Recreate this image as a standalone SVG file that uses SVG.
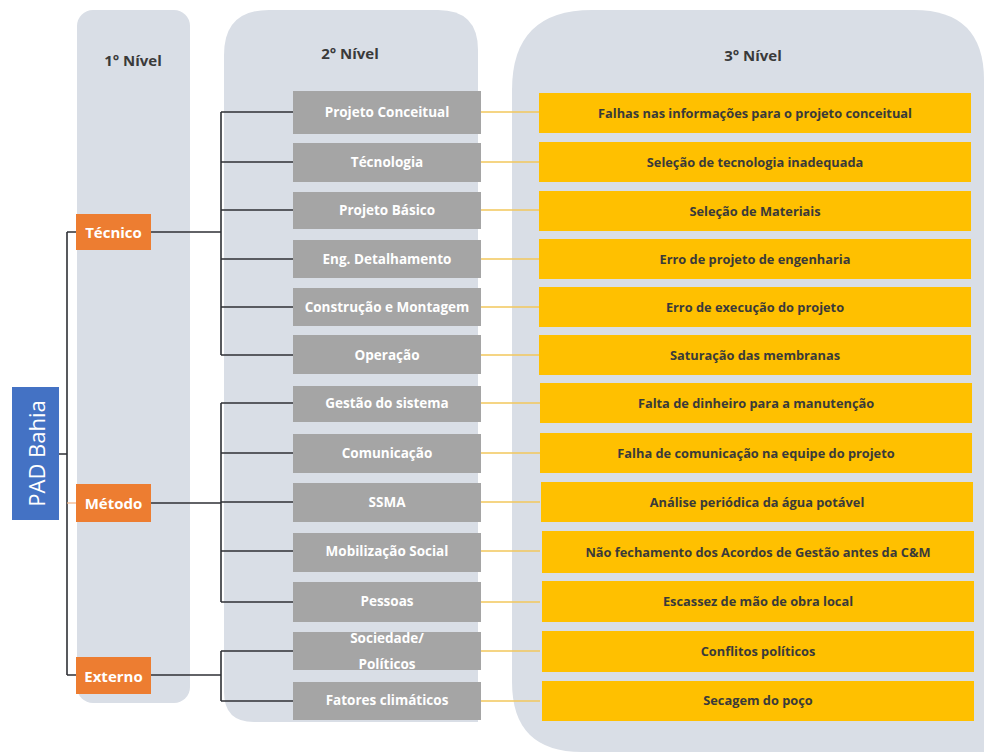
<svg xmlns="http://www.w3.org/2000/svg" width="984" height="754" viewBox="0 0 984 754">
<style>
.panel{fill:#D9DEE6}
.hdr{font-family:"Open Sans","Liberation Sans",sans-serif;font-weight:700;font-size:15px;fill:#3A3A3A;text-anchor:middle}
.g rect{fill:#A5A5A5}
.g text{font-family:"Open Sans","Liberation Sans",sans-serif;font-weight:700;font-size:13.5px;fill:#FFFFFF;text-anchor:middle;dominant-baseline:central}
.y rect{fill:#FFC000}
.y text{font-family:"Open Sans","Liberation Sans",sans-serif;font-weight:700;font-size:12.8px;fill:#3A3A3A;text-anchor:middle;dominant-baseline:central}
.o rect{fill:#ED7D31}
.o text{font-family:"Open Sans","Liberation Sans",sans-serif;font-weight:700;font-size:15px;fill:#FFFFFF;text-anchor:middle;dominant-baseline:central}
.dk{stroke:#2F3136;stroke-width:1.6;fill:none}
.yl{stroke:#F2C75C;stroke-width:1.3;fill:none}
</style>
<rect width="984" height="754" fill="#FFFFFF"/>
<g id="panels">
<rect class="panel" x="77" y="10" width="113" height="693" rx="16"/>
<path class="panel" d="M224 55 Q224 10 269 10 L438 10 Q478 10 478 50 L478 722 L254 722 Q224 722 224 692 Z"/>
<path class="panel" d="M512 90 Q512 10 592 10 L914 10 Q984 10 984 80 L984 752 L582 752 Q512 752 512 682 Z"/>
<text class="hdr" x="133" y="66">1° Nível</text>
<text class="hdr" x="350" y="59">2° Nível</text>
<text class="hdr" x="753" y="61">3° Nível</text>
</g>
<g id="connectors">
<path class="dk" d="M59 454 H67 M67 232 V675 M67 232 H76 M67 675 H76"/>
<path d="M67 503 H76" stroke="#F4B183" stroke-width="1.2"/>
<path class="dk" d="M151 232 H221 M221 112 V355 M221 112 H293 M221 162 H293 M221 210 H293 M221 259 H293 M221 307 H293 M221 355 H293"/>
<path class="dk" d="M151 503 H221 M221 403 V602 M221 403 H293 M221 453 H293 M221 502 H293 M221 551 H293 M221 602 H293"/>
<path class="dk" d="M151 675 H221 M221 651 V701 M221 651 H293 M221 701 H293"/>
<path class="yl" d="M481 112 H540 M481 162 H540 M481 210 H540 M481 259 H540 M481 307 H540 M481 355 H540 M481 403 H540 M481 453 H540 M481 502 H540 M481 551 H540 M481 602 H540 M481 651 H540 M481 701 H540"/>
</g>
<g id="pad">
<rect x="12" y="387" width="47" height="133" fill="#4472C4"/>
<text x="35.5" y="453.5" transform="rotate(-90 35.5 453.5)" font-family="Open Sans, Liberation Sans, sans-serif" font-size="22" fill="#FFFFFF" text-anchor="middle" dominant-baseline="central">PAD Bahia</text>
</g>
<g id="tecnico" class="o"><rect x="76" y="214" width="75" height="36"/><text x="113.5" y="232">Técnico</text></g>
<g id="metodo" class="o"><rect x="76" y="484" width="75" height="38"/><text x="113.5" y="503">Método</text></g>
<g id="externo" class="o"><rect x="76" y="657" width="75" height="37"/><text x="113.5" y="675.5">Externo</text></g>
<g id="n2-1" class="g"><rect x="293" y="91" width="188" height="43"/><text x="387" y="112">Projeto  Conceitual</text></g>
<g id="n2-2" class="g"><rect x="293" y="143" width="188" height="39"/><text x="387" y="162">Técnologia</text></g>
<g id="n2-3" class="g"><rect x="293" y="192" width="188" height="37"/><text x="387" y="210">Projeto Básico</text></g>
<g id="n2-4" class="g"><rect x="293" y="240" width="188" height="38"/><text x="387" y="259">Eng. Detalhamento</text></g>
<g id="n2-5" class="g"><rect x="293" y="288" width="188" height="38"/><text x="387" y="307">Construção e Montagem</text></g>
<g id="n2-6" class="g"><rect x="293" y="335" width="188" height="39"/><text x="387" y="355">Operação</text></g>
<g id="n2-7" class="g"><rect x="293" y="386" width="188" height="36"/><text x="387" y="403">Gestão do sistema</text></g>
<g id="n2-8" class="g"><rect x="293" y="434" width="188" height="39"/><text x="387" y="453">Comunicação</text></g>
<g id="n2-9" class="g"><rect x="293" y="483" width="188" height="39"/><text x="387" y="502">SSMA</text></g>
<g id="n2-10" class="g"><rect x="293" y="533" width="188" height="39"/><text x="387" y="551">Mobilização Social</text></g>
<g id="n2-11" class="g"><rect x="293" y="582" width="188" height="40"/><text x="387" y="601">Pessoas</text></g>
<g id="n2-12" class="g"><rect x="293" y="632" width="188" height="38"/><text x="387" y="638">Sociedade/</text><text x="387" y="664">Políticos</text></g>
<g id="n2-13" class="g"><rect x="293" y="682" width="188" height="38"/><text x="387" y="700">Fatores climáticos</text></g>
<g id="n3-1" class="y"><rect x="539" y="93" width="432" height="40"/><text x="755" y="113">Falhas nas informações para o projeto conceitual</text></g>
<g id="n3-2" class="y"><rect x="539" y="142" width="432" height="40"/><text x="755" y="162">Seleção de tecnologia inadequada</text></g>
<g id="n3-3" class="y"><rect x="539" y="191" width="432" height="40"/><text x="755" y="211">Seleção de Materiais</text></g>
<g id="n3-4" class="y"><rect x="539" y="239" width="432" height="40"/><text x="755" y="259">Erro de projeto de engenharia</text></g>
<g id="n3-5" class="y"><rect x="539" y="287" width="432" height="40"/><text x="755" y="307">Erro de execução do projeto</text></g>
<g id="n3-6" class="y"><rect x="539" y="335" width="432" height="40"/><text x="755" y="355">Saturação das membranas</text></g>
<g id="n3-7" class="y"><rect x="540" y="383" width="432" height="40"/><text x="756" y="403">Falta de dinheiro para a manutenção</text></g>
<g id="n3-8" class="y"><rect x="540" y="433" width="432" height="40"/><text x="756" y="453">Falha de comunicação na equipe do projeto</text></g>
<g id="n3-9" class="y"><rect x="541" y="482" width="432" height="40"/><text x="757" y="502">Análise periódica da água potável</text></g>
<g id="n3-10" class="y"><rect x="542" y="531" width="432" height="42"/><text x="758" y="552">Não fechamento dos Acordos de Gestão antes da C&amp;M</text></g>
<g id="n3-11" class="y"><rect x="542" y="581" width="432" height="41"/><text x="758" y="601">Escassez de mão de obra local</text></g>
<g id="n3-12" class="y"><rect x="542" y="631" width="432" height="41"/><text x="758" y="651">Conflitos políticos</text></g>
<g id="n3-13" class="y"><rect x="542" y="681" width="432" height="40"/><text x="758" y="700">Secagem do poço</text></g>
</svg>
